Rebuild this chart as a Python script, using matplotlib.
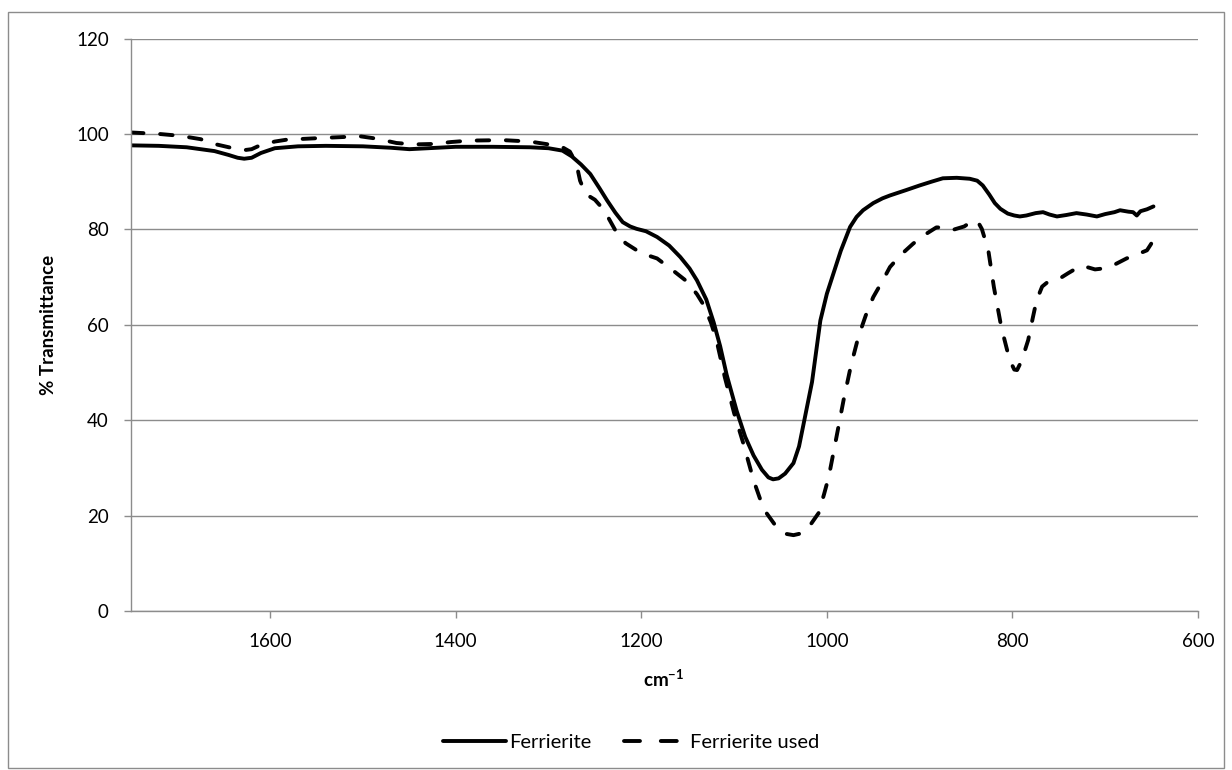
import matplotlib.pyplot as plt
from matplotlib.patches import Rectangle

plt.rcParams['font.family'] = ['Lato', 'DejaVu Sans']
plt.rcParams['mathtext.fontset'] = 'custom'
plt.rcParams['mathtext.rm'] = 'Lato'
plt.rcParams['mathtext.bf'] = 'Lato:bold'
plt.rcParams['lines.scale_dashes'] = False

# wavenumber (cm-1) and % transmittance
wn_fresh = [1750, 1720, 1690, 1660, 1645, 1635, 1628, 1620, 1610, 1595, 1570, 1540,
            1500, 1470, 1450, 1430, 1400, 1360, 1320, 1300, 1285, 1275, 1265, 1255,
            1245, 1237, 1228, 1220, 1212, 1205, 1195, 1183, 1170, 1158, 1148, 1140,
            1130, 1122, 1115, 1108, 1097, 1088, 1079, 1070, 1063, 1058, 1052, 1045,
            1036, 1030, 1025, 1016, 1007, 1000, 993, 985, 975, 968, 961, 950, 940,
            932, 915, 900, 887, 875, 860, 846, 838, 832, 825, 819, 813, 805, 798,
            792, 785, 775, 767, 760, 752, 742, 731, 720, 709, 700, 690, 684, 675,
            670, 666, 662, 655, 648]
t_fresh = [97.6, 97.5, 97.2, 96.4, 95.6, 95.0, 94.8, 95.0, 96.0, 97.0, 97.4, 97.5,
           97.4, 97.1, 96.8, 97.0, 97.3, 97.3, 97.2, 97.0, 96.5, 95.3, 93.6, 91.6,
           88.6, 86.1, 83.5, 81.5, 80.6, 80.1, 79.6, 78.4, 76.6, 74.2, 71.8, 69.3,
           65.3, 60.5, 55.5, 49.5, 41.8, 36.5, 32.6, 29.6, 28.0, 27.6, 27.8, 28.8,
           31.0, 34.5, 39.3, 48.0, 60.9, 66.5, 70.7, 75.5, 80.5, 82.6, 84.0, 85.5,
           86.5, 87.1, 88.2, 89.2, 90.0, 90.7, 90.8, 90.6, 90.2, 89.2, 87.3, 85.5,
           84.3, 83.3, 82.9, 82.7, 82.9, 83.4, 83.6, 83.1, 82.7, 83.0, 83.4, 83.1,
           82.7, 83.2, 83.6, 84.0, 83.7, 83.6, 82.9, 83.8, 84.2, 84.8]

wn_used = [1750, 1720, 1697, 1675, 1658, 1640, 1628, 1620, 1611, 1595, 1582, 1560,
           1539, 1503, 1485, 1464, 1445, 1424, 1405, 1385, 1349, 1320, 1300, 1285,
           1277, 1270, 1266, 1260, 1250, 1240, 1228, 1217, 1200, 1183, 1166, 1151,
           1140, 1133, 1125, 1119, 1110, 1100, 1090, 1079, 1072, 1065, 1055, 1045,
           1036, 1027, 1018, 1009, 1003, 998, 991, 982, 974, 966, 958, 950, 940, 932,
           920, 907, 895, 882, 872, 864, 852, 842, 837, 833, 826, 820, 812, 803, 798,
           795, 790, 783, 778, 774, 768, 763, 755, 749, 740, 727, 718, 711, 702, 691,
           677, 665, 655, 651, 648]
t_used = [100.3, 100.0, 99.6, 98.9, 97.8, 97.0, 96.6, 96.8, 97.6, 98.4, 98.8, 99.0,
          99.2, 99.5, 99.0, 98.1, 97.8, 97.9, 98.3, 98.6, 98.7, 98.4, 97.8, 97.2,
          96.3, 93.8, 90.2, 87.4, 86.2, 84.0, 79.8, 77.1, 75.0, 73.9, 71.4, 69.1,
          66.4, 64.2, 60.5, 56.8, 49.0, 41.5, 35.1, 27.4, 23.5, 20.5, 17.8, 16.2,
          15.9, 16.3, 18.0, 20.5, 24.5, 28.1, 35.1, 44.2, 51.5, 57.5, 62.0, 65.8,
          69.2, 72.1, 74.7, 77.0, 78.8, 80.4, 80.4, 79.9, 80.6, 81.9, 81.5, 80.1,
          75.6, 67.9, 59.5, 52.6, 50.6, 50.5, 52.5, 56.8, 61.5, 65.1, 68.0, 68.8,
          69.2, 69.7, 70.8, 72.3, 72.0, 71.6, 71.8, 72.5, 73.9, 74.8, 75.6, 76.8,
          77.8]

x_ticks = [1600, 1400, 1200, 1000, 800, 600]
y_ticks = [0, 20, 40, 60, 80, 100, 120]

fig = plt.figure(figsize=(12.32, 7.7), dpi=100)
ax = fig.add_axes([131 / 1232, 1 - 611 / 770, (1198 - 131) / 1232, (611 - 38.5) / 770])

ax.plot(wn_fresh, t_fresh, color='black', lw=2.8, solid_capstyle='round',
        solid_joinstyle='round', label='Ferrierite')
ax.plot(wn_used, t_used, color='black', lw=2.8, dashes=(9, 12),
        dash_capstyle='round', dash_joinstyle='round', label='Ferrierite used')

ax.set_xlim(1750, 600)
ax.set_ylim(0, 120)
ax.set_xticks(x_ticks)
ax.set_yticks(y_ticks)
ax.grid(True, axis='y', color='#8c8c8c', lw=1)
ax.set_axisbelow(True)

gray = '#8c8c8c'
for s in ['top', 'right']:
    ax.spines[s].set_visible(False)
for s in ['left', 'bottom']:
    ax.spines[s].set_color(gray)
    ax.spines[s].set_linewidth(1)
ax.tick_params(axis='both', colors=gray, labelcolor='black', labelsize=13.5,
               length=5, width=1, direction='out', pad=11)

fig.text(48 / 1232, 1 - 325 / 770, '% Transmittance', rotation=90, ha='center',
         va='center', fontsize=13.5, fontweight='bold')
fig.text(664 / 1232, 1 - 679 / 770, r'$\mathbf{cm^{-1}}$', ha='center', va='center',
         fontsize=13.5)

leg = fig.legend(loc='center', bbox_to_anchor=(631 / 1232, 1 - 742 / 770), ncol=2,
                 frameon=False, fontsize=14.5, handlelength=3.1, handletextpad=0.15,
                 columnspacing=1.65)
# two dashes only in the legend key, as in the original
leg.get_lines()[1].set_dashes((11.5, 15))

fig.patches.append(Rectangle((8 / 1232, 2 / 770), 1216 / 1232, 756 / 770,
                             transform=fig.transFigure, fill=False,
                             edgecolor=gray, lw=1))

fig.savefig('out.png', dpi=100)
